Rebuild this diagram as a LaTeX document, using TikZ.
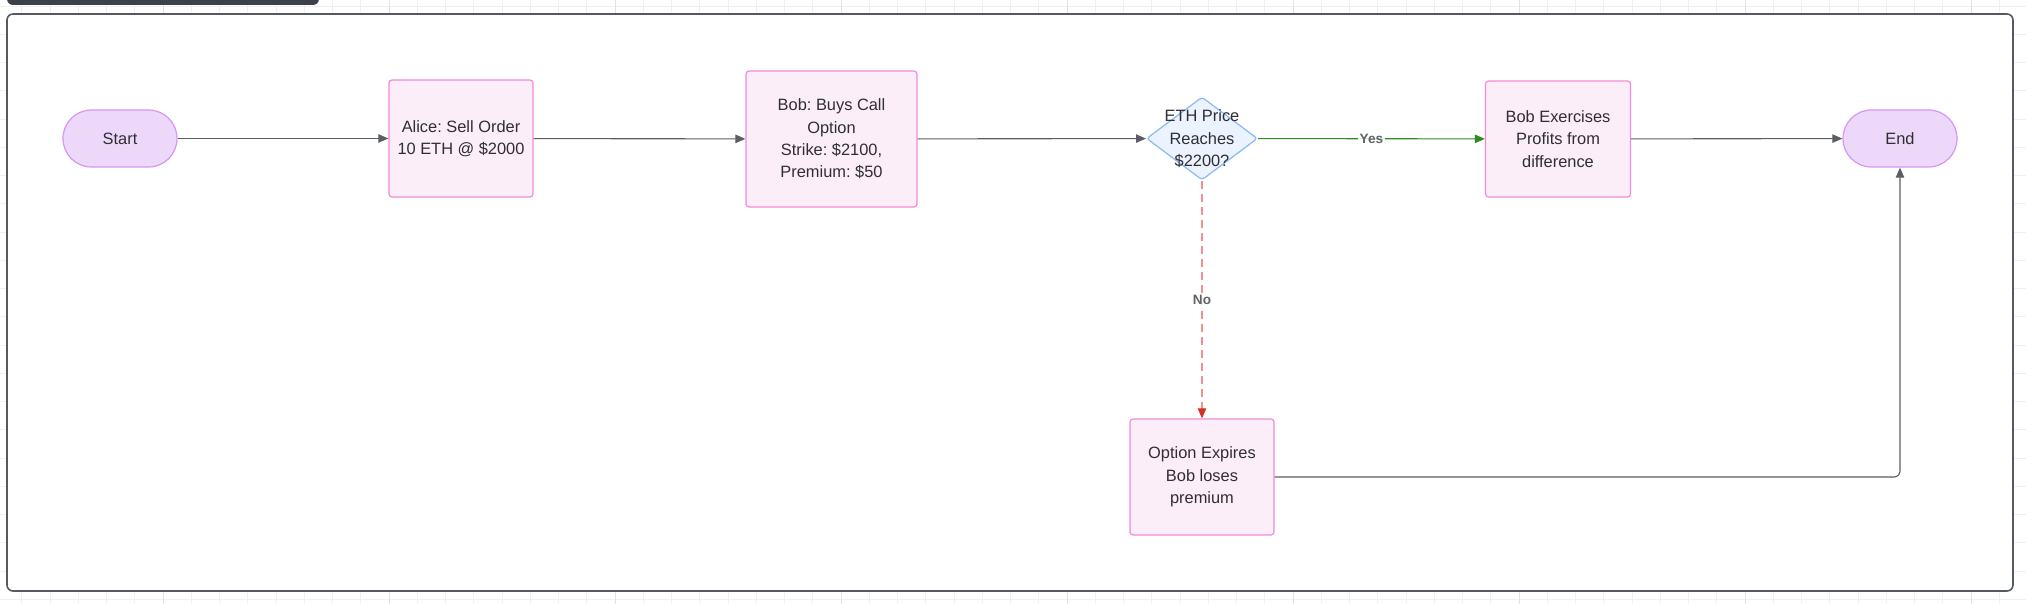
\documentclass[tikz,border=0pt]{standalone}
\usepackage{fontspec}
\setmainfont{Liberation Sans}
\frenchspacing
\usetikzlibrary{shapes.geometric,arrows.meta}
\definecolor{boxfill}{HTML}{FCEEF8}
\definecolor{boxdraw}{HTML}{F28AD8}
\definecolor{termfill}{HTML}{EDD8FA}
\definecolor{termdraw}{HTML}{D595F2}
\definecolor{decfill}{HTML}{EAF3FE}
\definecolor{decdraw}{HTML}{8DB9F3}
\definecolor{edgegray}{HTML}{5A5F66}
\definecolor{yesgreen}{HTML}{2F8A22}
\definecolor{nored}{HTML}{F09090}
\definecolor{noredtip}{HTML}{D93025}
\definecolor{txtcol}{HTML}{2E2E33}
\definecolor{lblcol}{HTML}{5F6368}
\definecolor{framecol}{HTML}{555A60}
\definecolor{gridminor}{HTML}{F0F0F0}
\definecolor{gridmajor}{HTML}{E2E2E2}
\definecolor{barcol}{HTML}{3C4048}
\tikzset{
  base/.style={align=center, text=txtcol, font=\fontsize{8.2}{11.2}\selectfont, inner sep=0pt},
  procbox/.style={base, draw=boxdraw, fill=boxfill, line width=0.6pt, rounded corners=1.5pt},
  termbox/.style={base, draw=termdraw, fill=termfill, line width=0.6pt, rounded corners=14.2pt, minimum width=57pt, minimum height=28.5pt},
  decbox/.style={diamond, draw=decdraw, fill=decfill, line width=0.6pt, rounded corners=1.5pt, minimum width=55.5pt, minimum height=41.5pt, inner sep=0pt},
  edge/.style={draw=edgegray, line width=0.55pt, -{Triangle[length=5pt,width=4.2pt]}},
  yesedge/.style={draw=yesgreen, line width=0.55pt, -{Triangle[length=5pt,width=4.2pt]}},
  noedge/.style={draw=nored, line width=0.55pt, dash pattern=on 4pt off 2.5pt, -{Triangle[length=5pt,width=4.2pt,color=noredtip]}},
  elabel/.style={font=\fontsize{6.8}{8}\selectfont\bfseries, text=lblcol, fill=white, fill opacity=0.85, text opacity=1, inner sep=1pt},
}
\begin{document}
\begin{tikzpicture}[x=0.5pt,y=-0.5pt]
\useasboundingbox (0,0) rectangle (2026,604);
% background grid
\foreach \gx in {21.75,50,...,2026} \draw[gridminor, line width=0.4pt] (\gx,0) -- (\gx,604);
\foreach \gy in {6,34.25,...,604} \draw[gridminor, line width=0.4pt] (0,\gy) -- (2026,\gy);
\foreach \gx in {163,389,...,2026} \draw[gridmajor, line width=0.5pt] (\gx,0) -- (\gx,604);
% top bar
\fill[barcol, rounded corners=3pt] (7,-10) rectangle (319,5);
% frame
\draw[framecol, fill=white, line width=0.8pt, rounded corners=3pt] (7,14) rectangle (2013,591);
% nodes
\node[termbox] (start) at (120,138.5) {Start};
\node[procbox, minimum width=72pt, minimum height=58.5pt] (alice) at (461,138.5) {Alice: Sell Order\\10 ETH @ \$2000};
\node[procbox, minimum width=85.5pt, minimum height=68pt] (bob) at (831.5,139) {Bob: Buys Call\\Option\\Strike: \$2100,\\Premium: \$50};
\node[decbox] (dec) at (1202,138.5) {};
\node[base] (dectxt) at (1202,139) {ETH Price\\Reaches\\\$2200?};
\node[procbox, minimum width=72.5pt, minimum height=58pt] (bobex) at (1558,139) {Bob Exercises\\Profits from\\difference};
\node[termbox] (end) at (1900,138.5) {End};
\node[procbox, minimum width=72pt, minimum height=58pt] (opt) at (1202,477) {Option Expires\\Bob loses\\premium};
% edges
\draw[edge] (start) -- (alice);
\draw[edge] (alice) -- (bob);
\draw[edge] (bob) -- (dec);
\draw[yesedge] (dec) -- node[elabel] {Yes} (bobex);
\draw[noedge] (dec) -- node[elabel] {No} (opt);
\draw[edge] (bobex) -- (end);
\draw[edge, rounded corners=3pt] (opt.east) -| (end.south);
\end{tikzpicture}
\end{document}
